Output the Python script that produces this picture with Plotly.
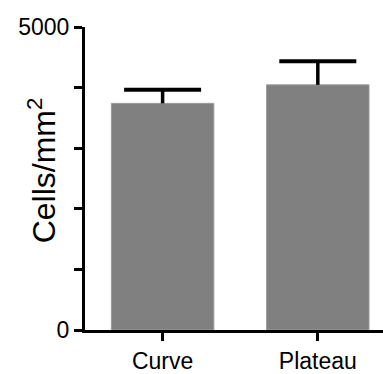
import plotly.graph_objects as go

categories = ["Curve", "Plateau"]
means = [3740, 4045]
sem = [225, 390]
y_tickvals = [0, 5000]
y_ticktext = ["0", "5000"]
y_minor_step = 1000

xpos = list(range(len(categories)))
upper = [m + s for m, s in zip(means, sem)]

fig = go.Figure()
fig.add_trace(go.Bar(
    x=xpos,
    y=means,
    width=0.66,
    marker=dict(color="#808080", line=dict(color="#9a9a9a", width=1)),
    error_y=dict(type="data", symmetric=False, array=sem, arrayminus=[0, 0],
                 color="black", thickness=3.5, width=0),
    hoverinfo="skip",
))
# error-bar caps (upper only, as in the reference)
fig.add_trace(go.Scatter(
    x=xpos, y=upper, mode="markers",
    marker=dict(symbol="line-ew", size=55, color="black",
                line=dict(color="black", width=4)),
    hoverinfo="skip", cliponaxis=False,
))

font = "Arial, 'Liberation Sans', Helvetica, sans-serif"
fig.update_layout(
    width=383, height=374,
    margin=dict(l=85, r=0, t=27, b=38),
    plot_bgcolor="white", paper_bgcolor="white",
    showlegend=False,
    font=dict(family=font, color="black", size=23),
    xaxis=dict(range=[-0.5, 1.42], tickvals=xpos, ticktext=categories,
               showline=True, linecolor="black", linewidth=3,
               ticks="outside", ticklen=8, tickwidth=3, tickcolor="black",
               showgrid=False, zeroline=False, fixedrange=True,
               tickfont=dict(size=23)),
    yaxis=dict(range=[0, 5000], tickvals=y_tickvals, ticktext=y_ticktext,
               showline=True, linecolor="black", linewidth=3,
               ticks="outside", ticklen=8, tickwidth=3, tickcolor="black",
               minor=dict(dtick=y_minor_step, tick0=0, ticks="outside", ticklen=8,
                          tickwidth=3, tickcolor="black", showgrid=False),
               showgrid=False, zeroline=False, fixedrange=True,
               tickfont=dict(size=23)),
    annotations=[dict(text="Cells/mm<sup>2</sup>", textangle=-90,
                      xref="paper", yref="paper", x=0, y=0.527,
                      xshift=-43, xanchor="center", yanchor="middle",
                      showarrow=False, font=dict(size=32, family=font))],
)
fig.write_html("out.html", config={"displayModeBar": False},
               post_script="document.body.style.margin='0';document.body.style.overflow='hidden';")
